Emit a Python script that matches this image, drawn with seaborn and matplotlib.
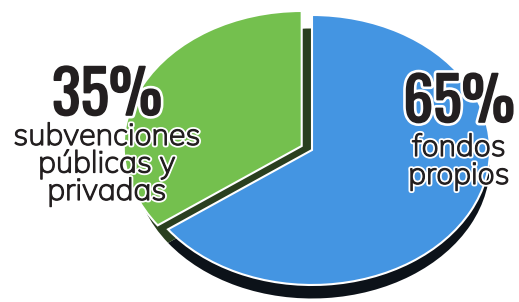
import matplotlib
matplotlib.use('Agg')
import matplotlib.pyplot as plt
import matplotlib.patheffects as pe
import seaborn as sns

# data
categories = ['fondos\npropios', 'subvenciones\npúblicas y\nprivadas']
shares = [65, 35]
share_labels = ['65%', '35%']

top_colors = ['#4495e2', '#74c04e']
side_colors = ['#0c1219', '#2a3f1f']

sns.set_theme(style='white')
plt.rcParams['font.family'] = ['Mulish', 'DejaVu Sans']

fig = plt.figure(figsize=(5.19, 3.02), dpi=100)
ax = fig.add_axes([0, 0, 1, 1])
ax.set_axis_off()

# side (depth) of the pie, drawn first and shifted down
ax.pie(shares, colors=side_colors, startangle=90, counterclock=False,
       explode=[0, 0.0], center=(0, -0.1), frame=False,
       wedgeprops=dict(edgecolor='none'))
# top face
ax.pie(shares, colors=top_colors, startangle=90, counterclock=False,
       explode=[0, 0.065], center=(0, 0), frame=False,
       wedgeprops=dict(edgecolor='white', linewidth=1.5))

ax.set_aspect('auto')
ax.set_xlim(-1.753, 1.163)
ax.set_ylim(-1.126, 1.111)
ax.set_axis_off()

ink = '#231f20'
big_fx = [pe.Stroke(linewidth=5, foreground='white'),
          pe.Stroke(linewidth=1.2, foreground=ink), pe.Normal()]
small_fx = [pe.Stroke(linewidth=3.5, foreground='white'),
            pe.Stroke(linewidth=0.9, foreground=ink), pe.Normal()]
big_font = ['Oswald', 'DejaVu Sans']


def label_block(x_px, pct_base_px, first_base_px, step_px, pct, text):
    fig.text(x_px / 519, 1 - pct_base_px / 302, pct, ha='center', va='baseline',
             fontsize=43, fontweight='bold', family=big_font, color=ink,
             path_effects=big_fx)
    for i, line in enumerate(text.split('\n')):
        fig.text(x_px / 519, 1 - (first_base_px + i * step_px) / 302, line,
                 ha='center', va='baseline', fontsize=22, color=ink,
                 path_effects=small_fx)


label_block(459, 122, 156, 28, share_labels[0], categories[0])
label_block(107, 115, 145, 27.5, share_labels[1], categories[1])

fig.savefig('out.png', dpi=100, facecolor='white')
